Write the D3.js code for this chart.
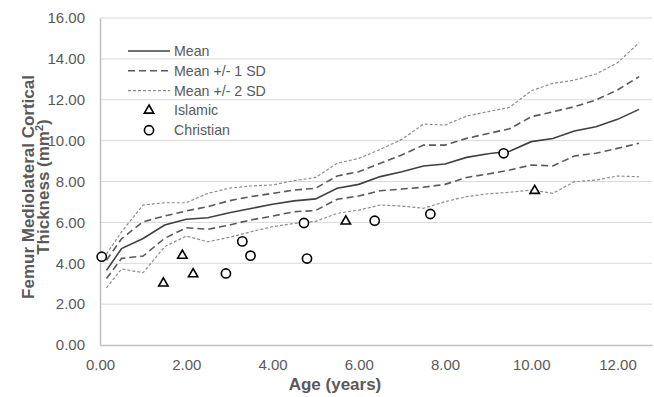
<!DOCTYPE html>
<html>
<head>
<meta charset="utf-8">
<script src="https://cdn.jsdelivr.net/npm/d3@7"></script>
<style>
  body { margin: 0; background: #fff; }
  svg { display: block; font-family: "Liberation Sans", Arial, sans-serif; }
</style>
</head>
<body>
<div id="chart"></div>
<script>
var ages = [0.15, 0.5, 1, 1.5, 2, 2.5, 3, 3.5, 4, 4.5, 5, 5.5, 6, 6.5, 7, 7.5, 8, 8.5, 9, 9.5, 10, 10.5, 11, 11.5, 12, 12.5];
var mean = [3.65, 4.72, 5.21, 5.87, 6.15, 6.23, 6.47, 6.68, 6.89, 7.05, 7.15, 7.67, 7.86, 8.24, 8.48, 8.76, 8.86, 9.18, 9.36, 9.48, 9.95, 10.1, 10.47, 10.68, 11.04, 11.53];
var plus1 = [4.15, 5.2, 6.03, 6.31, 6.56, 6.77, 7.06, 7.26, 7.42, 7.58, 7.67, 8.27, 8.48, 8.89, 9.3, 9.78, 9.78, 10.11, 10.35, 10.58, 11.17, 11.41, 11.66, 11.99, 12.48, 13.13];
var minus1 = [3.25, 4.24, 4.35, 5.22, 5.74, 5.66, 5.87, 6.12, 6.31, 6.52, 6.58, 7.13, 7.29, 7.55, 7.63, 7.72, 7.86, 8.2, 8.37, 8.56, 8.81, 8.76, 9.25, 9.38, 9.62, 9.87];
var plus2 = [4.45, 5.54, 6.85, 6.96, 6.96, 7.42, 7.67, 7.78, 7.83, 8.04, 8.2, 8.89, 9.13, 9.57, 10.06, 10.81, 10.76, 11.2, 11.42, 11.63, 12.44, 12.8, 12.96, 13.26, 13.81, 14.79];
var minus2 = [2.8, 3.72, 3.54, 4.81, 5.33, 5.05, 5.27, 5.54, 5.79, 5.95, 6.05, 6.44, 6.6, 6.85, 6.8, 6.69, 7.01, 7.26, 7.4, 7.47, 7.58, 7.42, 7.99, 8.07, 8.27, 8.23];

var islamicAge = [1.47, 1.91, 2.16, 5.7, 10.08];
var islamicVal = [3.02, 4.38, 3.47, 6.05, 7.55];
var christianAge = [0.04, 2.92, 3.3, 3.49, 4.73, 4.8, 6.37, 7.66, 9.36];
var christianVal = [4.32, 3.5, 5.07, 4.37, 5.97, 4.23, 6.08, 6.41, 9.38];

var xTicks = [0, 2, 4, 6, 8, 10, 12];
var yTicks = [0, 2, 4, 6, 8, 10, 12, 14, 16];

var width = 654, height = 397;
var margin = { top: 18, right: 2, bottom: 52, left: 100 };
var textColor = '#595959';

var svg = d3.select('#chart').append('svg').attr('width', width).attr('height', height);

var xScale = d3.scaleLinear().domain([0, 12.8]).range([margin.left, width - margin.right]);
var yScale = d3.scaleLinear().domain([0, 16]).range([height - margin.bottom, margin.top]);

// gridlines
svg.append('g').selectAll('line').data(yTicks.slice(1)).enter().append('line')
  .attr('x1', margin.left).attr('x2', width - margin.right)
  .attr('y1', function (d) { return yScale(d); }).attr('y2', function (d) { return yScale(d); })
  .style('stroke', '#d9d9d9').style('stroke-width', 1);

// axes
var yAxis = d3.axisLeft(yScale).tickValues(yTicks).tickSize(0).tickPadding(15).tickFormat(d3.format('.2f'));
var gy = svg.append('g').attr('transform', 'translate(' + margin.left + ',0)').call(yAxis);
var xAxis = d3.axisBottom(xScale).tickValues(xTicks).tickSize(0).tickPadding(14).tickFormat(d3.format('.2f'));
var gx = svg.append('g').attr('transform', 'translate(0,' + (height - margin.bottom) + ')').call(xAxis);
[gx, gy].forEach(function (g) {
  g.select('.domain').style('stroke', '#bfbfbf').style('stroke-width', 1.5);
  g.selectAll('text').style('font-size', '15px').style('fill', textColor).style('font-family', '"Liberation Sans", Arial, sans-serif');
});

// lines
var series = [
  { vals: plus2, color: '#8c8c8c', w: 1.2, dash: '3,2' },
  { vals: minus2, color: '#8c8c8c', w: 1.2, dash: '3,2' },
  { vals: plus1, color: '#595959', w: 1.6, dash: '7,4' },
  { vals: minus1, color: '#595959', w: 1.6, dash: '7,4' },
  { vals: mean, color: '#404040', w: 1.6, dash: null }
];
var line = d3.line()
  .x(function (d, i) { return xScale(ages[i]); })
  .y(function (d) { return yScale(d); });
series.forEach(function (s) {
  svg.append('path').datum(s.vals).attr('d', line)
    .style('fill', 'none').style('stroke', s.color).style('stroke-width', s.w)
    .style('stroke-dasharray', s.dash);
});

// markers
var tri = d3.symbol().type(d3.symbolTriangle).size(38);
svg.append('g').selectAll('path').data(islamicAge).enter().append('path')
  .attr('d', tri)
  .attr('transform', function (d, i) { return 'translate(' + xScale(d) + ',' + yScale(islamicVal[i]) + ')'; })
  .style('fill', '#fff').style('stroke', '#000').style('stroke-width', 1.6);
svg.append('g').selectAll('circle').data(christianAge).enter().append('circle')
  .attr('cx', function (d) { return xScale(d); })
  .attr('cy', function (d, i) { return yScale(christianVal[i]); })
  .attr('r', 4.6)
  .style('fill', '#fff').style('stroke', '#000').style('stroke-width', 1.6);

// legend
var legend = svg.append('g').attr('transform', 'translate(128,51)');
var items = [
  { label: 'Mean', color: '#404040', w: 1.6, dash: null },
  { label: 'Mean +/- 1 SD', color: '#595959', w: 1.6, dash: '7,4' },
  { label: 'Mean +/- 2 SD', color: '#8c8c8c', w: 1.2, dash: '3,2' },
  { label: 'Islamic', marker: 'tri' },
  { label: 'Christian', marker: 'circle' }
];
items.forEach(function (it, i) {
  var y = i * 19.8;
  if (it.marker === 'tri') {
    legend.append('path').attr('d', tri).attr('transform', 'translate(21,' + y + ')')
      .style('fill', '#fff').style('stroke', '#000').style('stroke-width', 1.6);
  } else if (it.marker === 'circle') {
    legend.append('circle').attr('cx', 21).attr('cy', y).attr('r', 4.6)
      .style('fill', '#fff').style('stroke', '#000').style('stroke-width', 1.6);
  } else {
    legend.append('line').attr('x1', 0).attr('x2', 42).attr('y1', y).attr('y2', y)
      .style('stroke', it.color).style('stroke-width', it.w).style('stroke-dasharray', it.dash);
  }
  legend.append('text').attr('x', 46).attr('y', y).attr('dy', '0.35em')
    .style('font-size', '14.2px').style('fill', textColor).text(it.label);
});

// axis titles
svg.append('text').attr('x', 335).attr('y', 390).attr('text-anchor', 'middle')
  .style('font-size', '17px').style('font-weight', 'bold').style('fill', textColor)
  .text('Age (years)');

var yTitle = svg.append('text').attr('transform', 'translate(0,187) rotate(-90)')
  .attr('text-anchor', 'middle')
  .style('font-size', '17px').style('font-weight', 'bold').style('fill', textColor);
yTitle.append('tspan').attr('x', 0).attr('y', 34).text('Femur Mediolateral Cortical');
yTitle.append('tspan').attr('x', 0).attr('y', 49).text('Thickness (mm');
yTitle.append('tspan').attr('dy', -6).style('font-size', '11px').text('2');
yTitle.append('tspan').attr('dy', 6).text(')');
</script>
</body>
</html>
